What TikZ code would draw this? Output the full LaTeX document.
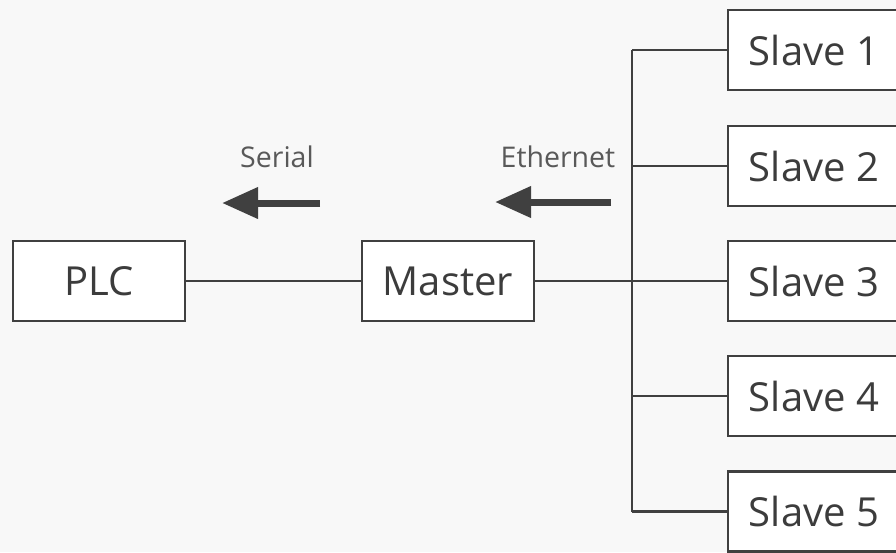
\documentclass[tikz,border=0pt]{standalone}
\usepackage{fontspec}
\setmainfont{Open Sans}
\usetikzlibrary{arrows.meta}
\definecolor{bg}{HTML}{F8F8F8}
\definecolor{ln}{HTML}{404040}
\definecolor{tx}{HTML}{3C3C3C}
\begin{document}
\begin{tikzpicture}[x=1pt,y=-1pt,
  box/.style={draw=ln,line width=2.6pt,fill=white,minimum width=172pt,minimum height=80pt,inner sep=0pt,text=tx,font=\fontsize{40}{40}\selectfont},
  conn/.style={draw=ln,line width=2.3pt},
  flow/.style={draw=ln,line width=7pt,-{Triangle[length=36pt,width=30pt]}},
  lbl/.style={text=tx!85,font=\fontsize{28.5}{28.5}\selectfont,inner sep=0pt}]
\useasboundingbox (0,0) rectangle (896,552);
\fill[bg] (0,0) rectangle (896,552);
\clip (0,0) rectangle (896,552);
% bus
\coordinate (b1) at (632,50);
\coordinate (b2) at (632,166);
\coordinate (b3) at (632,281);
\coordinate (b4) at (632,396);
\coordinate (b5) at (632,511.5);
\draw[conn] (b1) -- (b5);
\node[box] (plc) at (99,281) {PLC};
\node[box] (master) at (448,281) {Master};
\node[box] (s1) at (814,50) {Slave 1};
\node[box] (s2) at (814,166) {Slave 2};
\node[box] (s3) at (814,281) {Slave 3};
\node[box] (s4) at (814,396) {Slave 4};
\node[box] (s5) at (814,511.5) {Slave 5};
\draw[conn] (plc.east) -- (master.west);
\draw[conn] (master.east) -- (s3.west);
\draw[conn] (b1) -- (s1.west);
\draw[conn] (b2) -- (s2.west);
\draw[conn] (b4) -- (s4.west);
\draw[conn] (b5) -- (s5.west);
% arrows
\coordinate (sa) at (320,203);
\coordinate (sb) at (222,203);
\coordinate (ea) at (611,202);
\coordinate (eb) at (495,202);
\draw[flow] (sa) -- (sb);
\draw[flow] (ea) -- (eb);
\node[lbl] (serial) at (277,157) {Serial};
\node[lbl] (eth) at (558,157) {Ethernet};
\end{tikzpicture}
\end{document}
